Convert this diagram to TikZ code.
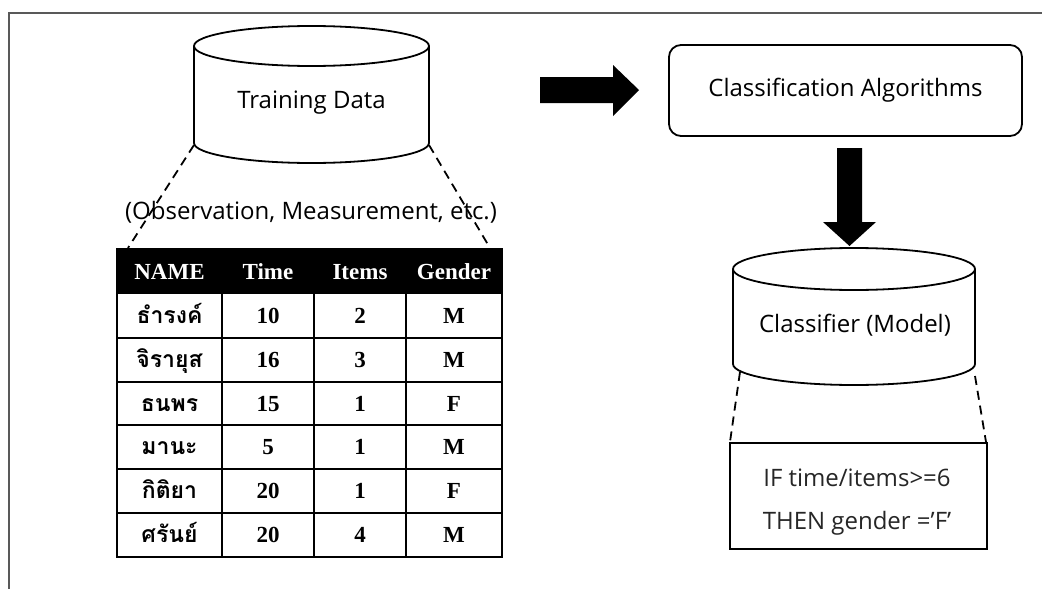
\documentclass[tikz,border=0pt]{standalone}
\usepackage{fontspec}
\setmainfont{Liberation Serif}
\newfontfamily\sansf{Open Sans}
\newfontfamily\thaif[Script=Thai]{Loma}
\begin{document}
\begin{tikzpicture}[x=1pt,y=1pt,
  lbl/.style={font=\sansf\fontsize{24}{28}\selectfont, inner sep=0pt},
  shapeline/.style={line width=1.8pt, draw=black},
  dashline/.style={line width=1.8pt, dash pattern=on 9pt off 6pt},
  tcell/.style={inner sep=0pt, text height=17pt, text depth=2pt},
  hdr/.style={tcell, font=\bfseries\fontsize{23}{26}\selectfont, text=white},
  cell/.style={tcell, font=\bfseries\fontsize{23}{26}\selectfont},
  thcell/.style={tcell, font=\thaif\bfseries\fontsize{23}{26}\selectfont},
  bigarrow/.style={fill=black, draw=none}]
\useasboundingbox (0,0) rectangle (1042,-589);
% frame
\draw[black!65, line width=1.2pt] (9,-589) -- (9,-13) -- (1042,-13);

% Training Data cylinder
\draw[shapeline, fill=white] (194,-46) -- (194,-143) arc[start angle=180,end angle=360,x radius=117.5,y radius=20] -- (429,-46);
\draw[shapeline] (311.5,-46) ellipse[x radius=117.5,y radius=20];
\node[lbl] (td) at (311.5,-103) {Training Data};
\coordinate (tdl) at (194,-145);
\coordinate (tdr) at (429,-145);
\coordinate (tabl) at (128,-248);
\coordinate (tabr) at (490,-248);
\draw[dashline] (tdl) -- (tabl);
\draw[dashline] (tdr) -- (tabr);
\node[lbl] (obs) at (311,-212) {(Observation, Measurement, etc.)};

% table
\fill[black] (117,-249) rectangle (502,-294);
\foreach \y in {338,382,425,469,513} \draw[line width=1.5pt] (117,-\y) -- (502,-\y);
\foreach \x in {222,314,406} \draw[line width=1.5pt] (\x,-294) -- (\x,-557);
\draw[line width=1.8pt] (117,-249) rectangle (502,-557);
\node[hdr] (h1) at (169.5,-271.5) {NAME};
\node[hdr] (h2) at (268,-271.5) {Time};
\node[hdr] (h3) at (360,-271.5) {Items};
\node[hdr] (h4) at (454,-271.5) {Gender};
\foreach \yc/\nm/\t/\i/\g [count=\r] in {316/ธำรงค์/10/2/M, 360/จิรายุส/16/3/M, 403.5/ธนพร/15/1/F, 447/มานะ/5/1/M, 491/กิติยา/20/1/F, 535/ศรันย์/20/4/M}{
  \node[thcell] (n\r) at (169.5,-\yc) {\nm};
  \node[cell] (t\r) at (268,-\yc) {\t};
  \node[cell] (i\r) at (360,-\yc) {\i};
  \node[cell] (g\r) at (454,-\yc) {\g};
}

% right arrow
\draw[bigarrow] (540,-77) -- (613,-77) -- (613,-65) -- (639,-90) -- (613,-116) -- (613,-103) -- (540,-103) -- cycle;

% Classification Algorithms
\node[lbl, draw, line width=1.8pt, rounded corners=12pt, minimum width=353pt, minimum height=91pt] (ca) at (845.5,-90.5) {Classification Algorithms};

% down arrow
\draw[bigarrow] (837,-148) -- (862,-148) -- (862,-222) -- (876,-222) -- (849.5,-246) -- (823,-222) -- (837,-222) -- cycle;

% Classifier cylinder
\draw[shapeline, fill=white] (733,-269) -- (733,-364) arc[start angle=180,end angle=360,x radius=121,y radius=21] -- (975,-269);
\draw[shapeline] (854,-269) ellipse[x radius=121,y radius=21];
\node[lbl] (cm) at (855,-325) {Classifier (Model)};
\coordinate (cml) at (740,-372);
\coordinate (cmr) at (975,-376);
\coordinate (rl) at (730,-442);
\coordinate (rr) at (986,-442);
\draw[dashline] (cml) -- (rl);
\draw[dashline] (cmr) -- (rr);

% rule box
\node[draw, line width=1.8pt, minimum width=257pt, minimum height=106pt, inner sep=0pt] (rule) at (858.5,-496) {};
\node[lbl, text=black!85] (r1) at (857,-478) {IF time/items>=6};
\node[lbl, text=black!85] (r2) at (857,-523) {THEN gender =’F’};
\end{tikzpicture}
\end{document}
